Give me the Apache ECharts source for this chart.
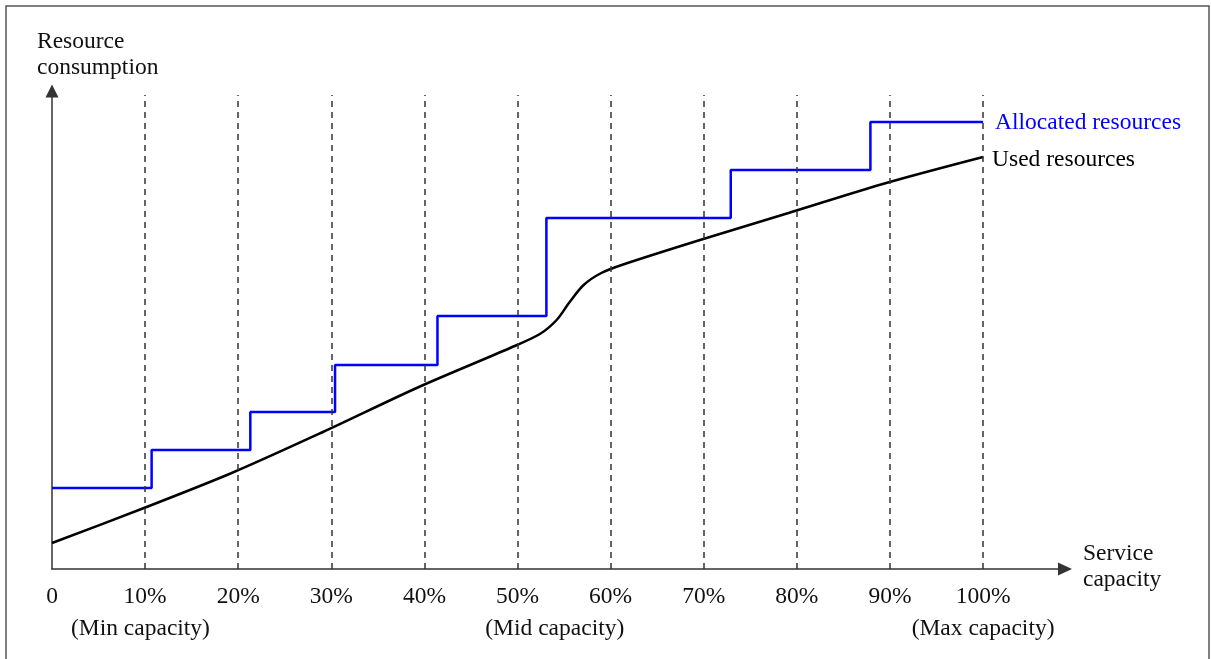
<!DOCTYPE html>
<html>
<head>
<meta charset="utf-8">
<script src="https://cdn.jsdelivr.net/npm/echarts@6/dist/echarts.min.js"></script>
<style>
html,body{margin:0;padding:0;background:#fff;}
#chart{width:1211px;height:659px;}
</style>
</head>
<body>
<div id="chart"></div>
<script>
// Service capacity (%) tick values (dashed guide lines at 10..100)
var xTicks = [10, 20, 30, 40, 50, 60, 70, 80, 90, 100];
// Allocated resources: step points [capacity %, consumption]
var allocatedX = [0, 10.7, 21.3, 30.4, 41.4, 53.1, 72.9, 87.9, 100];
var allocatedY = [81, 119, 157, 204, 253, 351, 399, 447, 447];
// Used resources: curve points [capacity %, consumption]
var usedX = [0, 9.6, 19.3, 29.1, 39.4, 49.2, 52.4, 54.2, 55.6, 57.1, 59.0, 61.5, 69.6, 79.1, 89.6, 100];
var usedY = [26, 60, 96, 137, 182, 221, 235, 249, 267, 284, 296, 305, 329, 356, 386, 412];
// Capacity annotations
var notePos = [9.5, 54.0, 100];
var noteText = ['(Min capacity)', '(Mid capacity)', '(Max capacity)'];

var FONT = '"Liberation Serif", "DejaVu Serif", serif';
var FS = 23.5;

function pairs(xs, ys) { return xs.map(function (x, i) { return [x, ys[i]]; }); }

var chart = echarts.init(document.getElementById('chart'));
var option = {
  backgroundColor: '#fff',
  animation: false,
  grid: { left: 52, right: 146, top: 91, bottom: 90, containLabel: false },
  xAxis: {
    type: 'value', min: 0, max: 108.8, interval: 10,
    axisLine: { show: true, lineStyle: { color: '#333', width: 1.5 }, symbol: ['none', 'triangle'], symbolSize: [13, 14] },
    axisTick: { show: false },
    axisLabel: {
      show: true, margin: 16, color: '#111', fontFamily: FONT, fontSize: FS,
      showMaxLabel: false,
      formatter: function (v) { if (v === 0) return '0'; if (v > 100) return ''; return v + '%'; }
    },
    splitLine: { show: false }
  },
  yAxis: {
    type: 'value', min: 0, max: 478,
    axisLine: { show: true, lineStyle: { color: '#333', width: 1.5 }, symbol: ['none', 'triangle'], symbolSize: [13, 13] },
    axisTick: { show: false },
    axisLabel: { show: false },
    splitLine: { show: false }
  },
  series: [
    {
      name: 'guides', type: 'line', data: [], silent: true,
      markLine: {
        silent: true, symbol: ['none', 'none'], label: { show: false },
        lineStyle: { color: '#333', width: 1.5, type: [6, 5] },
        data: xTicks.map(function (t) { return [{ coord: [t, 0] }, { coord: [t, 474] }]; })
      },
      z: 1
    },
    {
      name: 'Allocated resources', type: 'line', step: 'end', showSymbol: false,
      data: pairs(allocatedX, allocatedY),
      lineStyle: { color: '#0000ff', width: 2.5 },
      itemStyle: { color: '#0000ff' },
      endLabel: { show: true, formatter: 'Allocated resources', color: '#0000ff', fontFamily: FONT, fontSize: FS, distance: 12, offset: [0, 1] },
      z: 3
    },
    {
      name: 'Used resources', type: 'line', smooth: 0.3, showSymbol: false,
      data: pairs(usedX, usedY),
      lineStyle: { color: '#000', width: 2.5 },
      itemStyle: { color: '#000' },
      endLabel: { show: true, formatter: 'Used resources', color: '#000', fontFamily: FONT, fontSize: FS, distance: 9, offset: [0, 3] },
      z: 4
    }
  ]
};
chart.setOption(option);

var graphics = [
  { type: 'rect', shape: { x: 6, y: 6, width: 1203, height: 700 }, style: { fill: null, stroke: '#555', lineWidth: 1.5 }, silent: true },
  { type: 'text', left: 37, top: 29, style: { text: 'Resource\nconsumption', fill: '#111', font: FS + 'px ' + FONT, lineHeight: 26 } },
  { type: 'text', left: 1083, top: 541, style: { text: 'Service\ncapacity', fill: '#111', font: FS + 'px ' + FONT, lineHeight: 26 } }
];
notePos.forEach(function (p, i) {
  var px = chart.convertToPixel({ xAxisIndex: 0 }, p);
  graphics.push({ type: 'text', x: px, y: 629, style: { text: noteText[i], fill: '#111', font: FS + 'px ' + FONT, align: 'center', verticalAlign: 'middle' } });
});
chart.setOption({ graphic: graphics });
</script>
</body>
</html>
